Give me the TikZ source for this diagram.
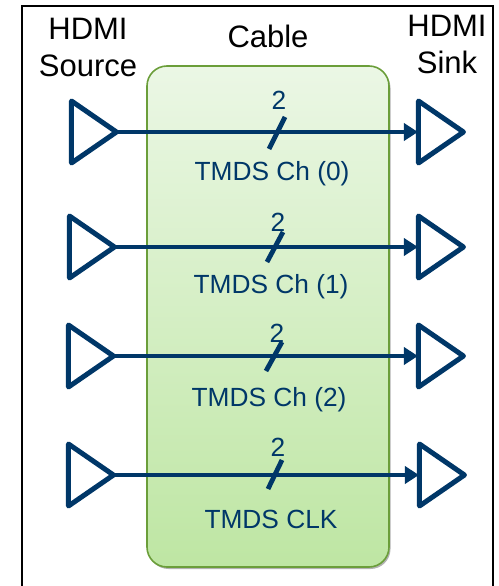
\documentclass[tikz,border=0pt]{standalone}
\usepackage{fontspec}
\setmainfont{Liberation Sans}
\usetikzlibrary{shapes.geometric,arrows.meta,shadows}
\definecolor{navy}{HTML}{003768}
\definecolor{boxline}{HTML}{6B9E3A}
\definecolor{boxtop}{HTML}{EBF7E5}
\definecolor{boxbot}{HTML}{BEE6A3}
\tikzset{
  x=1pt,y=-1pt,
  buf/.style={shape=isosceles triangle,isosceles triangle stretches,shape border rotate=0,
    draw=navy,line width=5pt,line join=round,fill=white,inner sep=0pt,
    minimum width=62pt,minimum height=45pt},
  head/.style={font=\fontsize{31}{31}\selectfont,text=black,inner sep=0pt},
  lab/.style={font=\fontsize{26.3}{27}\selectfont,text=navy,inner sep=0pt},
  wire/.style={draw=navy,line width=4.6pt,-{Triangle[length=14pt,width=17pt]},shorten <=-5pt,shorten >=-2pt},
  slash/.style={draw=navy,line width=4.8pt},
}
\begin{document}
\begin{tikzpicture}
\useasboundingbox (0,0) rectangle (498,586);
\draw[black,line width=2pt] (22,590) -- (22,6) -- (493,6) -- (493,590);
\node[draw=boxline,line width=1.6pt,rounded corners=20pt,minimum width=242pt,minimum height=501pt,
  top color=boxtop,bottom color=boxbot,
  drop shadow={shadow xshift=1.5pt,shadow yshift=-2pt,fill=black,opacity=.3}] (cable) at (268,316.5) {};
\node[head] (hs1) at (88,29) {HDMI};
\node[head] (hs2) at (88,66) {Source};
\node[head] (hc) at (268,36) {Cable};
\node[head] (hk1) at (447,26) {HDMI};
\node[head] (hk2) at (447,62) {Sink};
% buffers
\node[buf,anchor=apex] (s0) at (123,132) {};
\node[buf,anchor=apex] (s1) at (121,247) {};
\node[buf,anchor=apex] (s2) at (120,356) {};
\node[buf,anchor=apex] (s3) at (120,475) {};
\node[buf,anchor=apex] (d0) at (470,132) {};
\node[buf,anchor=apex] (d1) at (470,247) {};
\node[buf,anchor=apex] (d2) at (470,356) {};
\node[buf,anchor=apex] (d3) at (471,475) {};
% wires
\foreach \i in {0,1,2,3} \draw[wire] (s\i.apex) -- (d\i.lower side);
% slashes
\coordinate (a0) at (269,149); \coordinate (b0) at (285,117);
\coordinate (a1) at (267,262); \coordinate (b1) at (283,232);
\coordinate (a2) at (266,371); \coordinate (b2) at (282,342);
\coordinate (a3) at (268,489); \coordinate (b3) at (282,460);
\foreach \i in {0,1,2,3} \draw[slash] (a\i) -- (b\i);
% labels
\node[lab] (n0) at (279,100) {2};
\node[lab] (n1) at (278,222) {2};
\node[lab] (n2) at (277,333) {2};
\node[lab] (n3) at (278,447) {2};
\node[lab] (t0) at (272,173.5) {TMDS Ch (0)};
\node[lab] (t1) at (271,286.5) {TMDS Ch (1)};
\node[lab] (t2) at (269,399.5) {TMDS Ch (2)};
\node[lab] (t3) at (271,519) {TMDS CLK};
\end{tikzpicture}
\end{document}
